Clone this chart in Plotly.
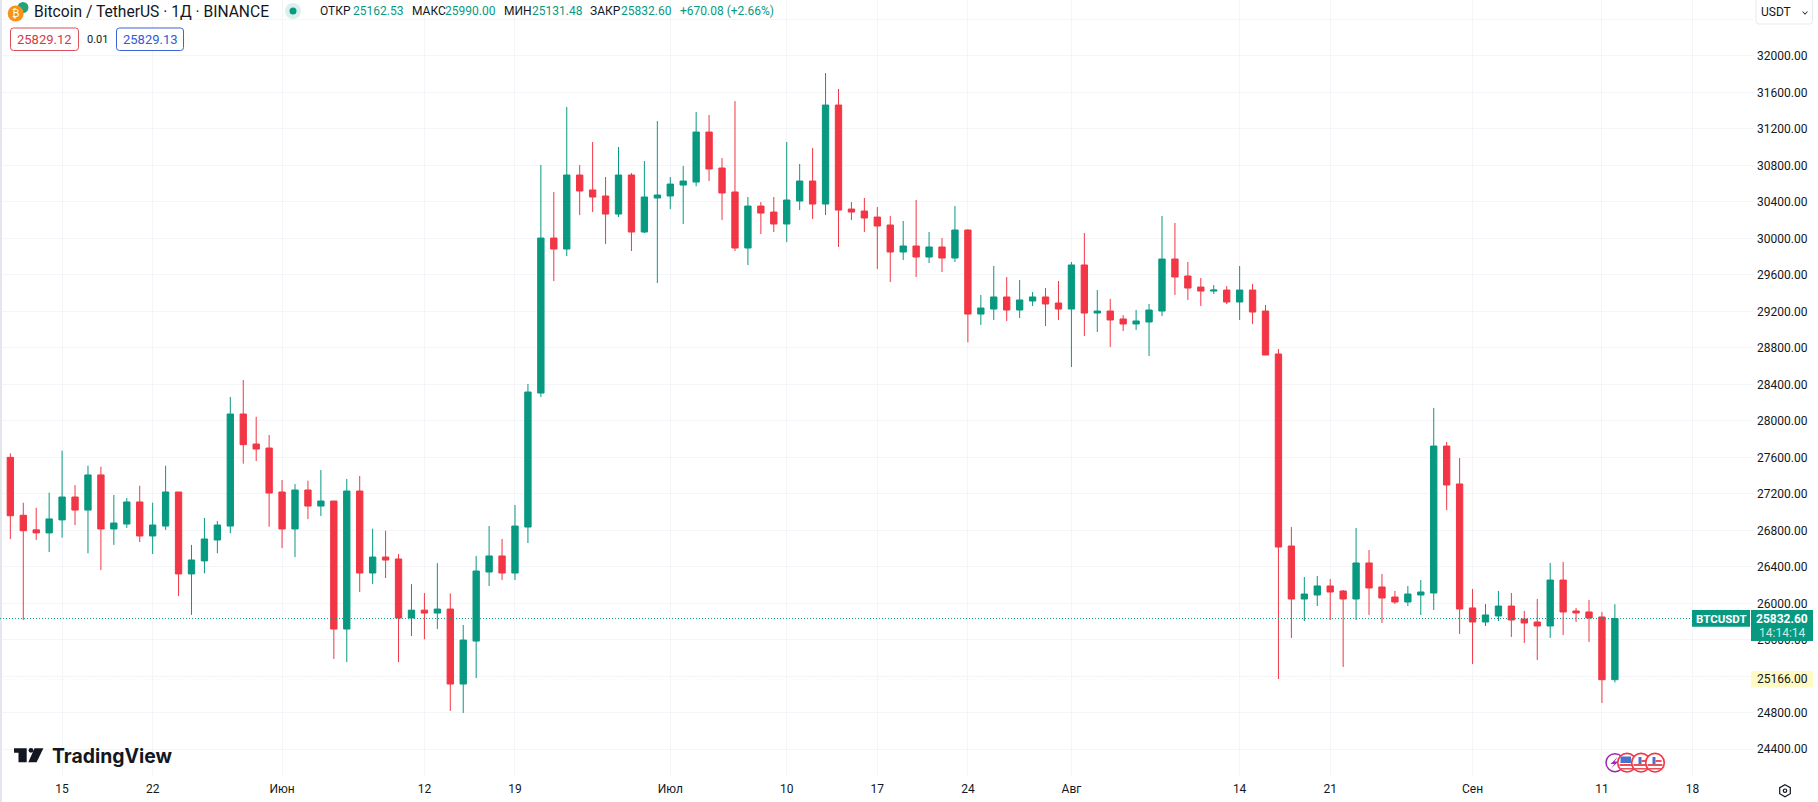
import pandas as pd
import plotly.graph_objects as go

start_date = "2023-05-11"
open_ = [27600,26965,26805,26772,26914,27165,27022,27407,26815,26869,27111,26738,26847,27220,26322,26465,26694,26847,28075,27746,
 27702,27220,26815,27242,27066,27121,25718,27231,26332,26507,26486,25839,25925,25893,25937,25115,25586,26343,26519,26332,
 26836,28305,30004,29884,30695,30531,30465,30267,30695,30070,30443,30465,30585,30618,31166,30772,30509,29895,30355,30289,
 30158,30410,30629,30377,31462,30322,30300,30234,30147,29851,29917,29796,29906,29785,30092,29171,29226,29358,29215,29314,
 29358,29292,29226,29709,29182,29204,29117,29062,29084,29204,29774,29588,29467,29423,29434,29303,29434,29204,28733,26628,
 26047,26091,26190,26135,26047,26442,26179,26069,26014,26091,26113,27724,27308,25949,25795,25861,25970,25828,25795,25751,
 26255,25916,25905,25850,25162.53]
high = [27644,27103,27048,27213,27673,27296,27509,27498,27187,27154,27289,27103,27508,27220,26640,26935,26902,28262,28448,28045,
 27845,27351,27307,27344,27461,27121,27362,27395,26818,26796,26540,26210,26112,26440,26108,25762,26519,26847,26705,27078,
 28404,30805,30509,31440,30805,31057,30673,31002,30717,30848,31287,30673,30794,31386,31353,30881,31506,30454,30399,30454,
 31057,30816,30991,31813,31638,30399,30443,30344,30245,30191,30421,30070,30004,30355,30100,29380,29698,29577,29544,29413,
 29456,29533,29741,30059,29434,29336,29160,29215,29281,30246,30169,29741,29566,29489,29478,29698,29500,29270,28788,26836,
 26288,26299,26266,26146,26826,26584,26321,26135,26190,26255,28142,27768,27593,26157,25992,26135,26113,25916,26047,26442,
 26453,25949,26036,25905,25990]
low = [26704,25817,26695,26562,26720,26858,26548,26365,26640,26826,26672,26540,26804,26080,25873,26329,26548,26767,27531,27560,
 26840,26606,26507,26923,26956,25390,25356,26124,26212,26277,25356,25641,25605,25718,24820,24798,25180,26190,26255,26255,
 26661,28261,29533,29807,30256,30289,29939,30234,29862,30059,29511,30322,30158,30571,30629,30202,29862,29708,30048,30070,
 29960,30311,30213,30256,29906,30202,30070,29665,29522,29763,29577,29730,29632,29742,28861,29051,29106,29095,29128,29259,
 29040,29106,28590,28930,28974,28810,28985,28996,28711,29149,29380,29325,29259,29391,29281,29106,29062,28722,25170,25620,
 25806,25970,25817,25302,25817,25872,25784,25992,25970,25872,25927,27023,25664,25335,25751,25806,25631,25565,25378,25620,
 25653,25795,25576,24907,25131.48]
close = [26960,26796,26772,26925,27165,27022,27407,26815,26880,27111,26738,26858,27220,26322,26475,26705,26858,28075,27739,27691,
 27209,26815,27242,27066,27121,25718,27231,26332,26507,26474,25839,25925,25893,25937,25115,25597,26354,26519,26332,26847,
 28316,30004,29884,30695,30520,30454,30267,30695,30070,30454,30476,30596,30629,31166,30761,30498,29895,30355,30278,30158,
 30421,30629,30377,31462,30311,30289,30224,30136,29851,29917,29796,29906,29785,30092,29171,29237,29358,29215,29325,29358,
 29281,29226,29709,29182,29204,29106,29062,29095,29215,29774,29577,29456,29423,29434,29303,29434,29193,28722,26617,26047,
 26102,26190,26124,26047,26442,26168,26058,26014,26102,26124,27724,27297,25938,25795,25872,25970,25817,25784,25751,26255,
 25905,25894,25839,25162.53,25832.60]
price_ticks = list(range(24400, 32401, 400))
hidden_price_labels = [32400]
date_ticks = ["2023-05-15","2023-05-22","2023-06-01","2023-06-12","2023-06-19","2023-07-01","2023-07-10","2023-07-17",
              "2023-07-24","2023-08-01","2023-08-14","2023-08-21","2023-09-01","2023-09-11","2023-09-18"]
date_labels = ["15","22","Июн","12","19","Июл","10","17","24","Авг","14","21","Сен","11","18"]
last_price = 25832.60
marked_low = 25166.00

UP, DOWN, INK = "#089981", "#F23645", "#131722"
GRID = "#F3F5F9"
FONT = "Roboto, sans-serif"
W, H = 1753, 776
PXDAY = 12.94
def px(x): return x / W
def py(y): return (H - y) / H

dates = pd.date_range(start_date, periods=len(open_), freq="D")
t0 = pd.Timestamp(start_date)
xr = [t0 + pd.Timedelta(days=-10.33 / PXDAY), t0 + pd.Timedelta(days=(W - 10.33) / PXDAY)]
yr = [26000 - (H - 603.3) / 0.09122, 26000 + 603.3 / 0.09122]

fig = go.Figure(go.Candlestick(
    x=dates, open=open_, high=high, low=low, close=close,
    increasing=dict(line=dict(color=UP, width=1), fillcolor=UP),
    decreasing=dict(line=dict(color=DOWN, width=1), fillcolor=DOWN),
    showlegend=False))

shapes, annos = [], []
def rect(x0, y0, x1, y1, fill, line=None, lw=0, layer="above"):
    shapes.append(dict(type="rect", xref="paper", yref="paper", x0=px(x0), x1=px(x1), y0=py(y1), y1=py(y0),
                       fillcolor=fill, line=dict(color=line or fill, width=lw), layer=layer))
def circle(cx, cy, r, fill, line=None, lw=0):
    shapes.append(dict(type="circle", xref="paper", yref="paper", x0=px(cx - r), x1=px(cx + r), y0=py(cy + r), y1=py(cy - r),
                       fillcolor=fill, line=dict(color=line or fill, width=lw), layer="above"))
def poly(pts, fill, line=None, lw=0):
    p = "M" + " L".join(f"{px(a):.5f},{py(b):.5f}" for a, b in pts) + " Z"
    shapes.append(dict(type="path", xref="paper", yref="paper", path=p, fillcolor=fill,
                       line=dict(color=line or fill, width=lw), layer="above"))
def rrect(x0, y0, x1, y1, r, fill, line, lw=1):
    c = lambda a, b: f"{px(a):.5f},{py(b):.5f}"
    p = (f"M{c(x0+r,y0)} L{c(x1-r,y0)} Q{c(x1,y0)} {c(x1,y0+r)} L{c(x1,y1-r)} Q{c(x1,y1)} {c(x1-r,y1)} "
         f"L{c(x0+r,y1)} Q{c(x0,y1)} {c(x0,y1-r)} L{c(x0,y0+r)} Q{c(x0,y0)} {c(x0+r,y0)} Z")
    shapes.append(dict(type="path", xref="paper", yref="paper", path=p, fillcolor=fill,
                       line=dict(color=line, width=lw), layer="above"))
def text(x, y, s, color=INK, size=12, anchor="left", family=FONT):
    annos.append(dict(xref="paper", yref="paper", x=px(x), y=py(y), text=s, showarrow=False, xanchor=anchor, yanchor="middle",
                      font=dict(family=family, size=size, color=color), borderpad=0))

# left strip
shapes.append(dict(type="rect", xref="paper", yref="paper", x0=0, x1=px(2), y0=py(802), y1=1,
                   fillcolor="#E3E6EC", line=dict(width=0), layer="above"))

# price lines
shapes.append(dict(type="line", xref="paper", yref="y", x0=0, x1=px(1692), y0=last_price, y1=last_price,
                   line=dict(color=UP, width=1, dash="1px,2px"), layer="above"))
shapes.append(dict(type="line", xref="paper", yref="y", x0=0, x1=1, y0=marked_low, y1=marked_low,
                   line=dict(color="#FFF3C4", width=1, dash="1px,2px"), layer="below"))

# header
circle(23, 7.5, 5.5, "#26A17B")
circle(15.7, 13.5, 8, "#F7931A")
text(15.7, 13.5, "₿", "#FFFFFF", 10, "center")
text(33, 12, "Bitcoin / TetherUS · 1Д · BINANCE", INK, 15.6)
circle(293, 11, 8, "rgba(8,153,129,0.15)")
circle(293, 11, 3.5, UP)
for x, s, c in [(319, "ОТКР", INK), (352, "25162.53", UP), (411, "МАКС", INK), (444, "25990.00", UP),
                (502.5, "МИН", INK), (530.6, "25131.48", UP), (589, "ЗАКР", INK), (620, "25832.60", UP),
                (678.6, "+670.08 (+2.66%)", UP)]:
    text(x, 11.5, s, c, 12)
rrect(10.5, 28, 78.5, 50.5, 3, "#FFFFFF", "#D9505C")
text(44.5, 39.5, "25829.12", "#D13B47", 13, "center")
text(97, 39.5, "0.01", INK, 11, "center")
rrect(116.5, 28, 183.5, 50.5, 3, "#FFFFFF", "#3D62D6")
text(150, 39.5, "25829.13", "#2F5BD8", 13, "center")

# currency button
rrect(1756, -1, 1812.5, 24, 3, "#FFFFFF", "#E7E9EF")
text(1759.5, 12, "USDT", INK, 12)
poly([(1802.5, 11), (1805, 13.5), (1807.5, 11), (1807.5, 12), (1805, 14.8), (1802.5, 12)], INK)

# axis labels on the right
rect(1692, 610, 1750, 626.7, UP)
text(1721, 618.5, "<b>BTCUSDT</b>", "#FFFFFF", 11.5, "center")
rect(1751, 610, 1813, 641, UP)
text(1782, 618.5, "<b>25832.60</b>", "#FFFFFF", 12, "center")
text(1782, 633, "14:14:14", "#CDEBE5", 12, "center")
rect(1751, 671, 1813, 687.5, "#FFF9C4")
text(1782, 679.3, "25166.00", INK, 12, "center")

# TradingView logo
poly([(14, 748.3), (26.7, 748.3), (26.7, 762.3), (18.5, 762.3), (18.5, 752.7), (14, 752.7)], INK)
circle(31, 750.3, 2.4, INK)
poly([(34.5, 748.3), (43.4, 748.3), (36.6, 762.3), (28.3, 762.3)], INK)
text(50.5, 755.5, "<b>TradingView</b>", INK, 19.4, family="Inter, sans-serif")

# event badges
circle(1615, 762.7, 9, "#FFFFFF", "#9C27B0", 1.5)
poly([(1618, 756.5), (1610.5, 764), (1614.5, 764), (1611, 768.5), (1618.5, 761.5), (1614.5, 761.5)], "#9C27B0")
for cx, full in [(1627, True), (1641, False), (1655, False)]:
    circle(cx, 762.7, 9.3, "#FFFFFF", DOWN, 1.6)
    if full:
        rect(cx - 6.5, 756.5, cx + 4, 763, "#4A72CC")
    else:
        rect(cx - 2.5, 757, cx + 0.5, 764.5, "#4A72CC")
        rect(cx + 0.5, 760, cx + 6.5, 762, "#E8505B")
    rect(cx - 7.5, 764, cx + 7.5, 766, "#E8505B")
    rect(cx - 6, 768, cx + 6, 769.5, "#E8505B")

# settings icon
poly([(1785, 784.7), (1790.3, 787.7), (1790.3, 793.7), (1785, 796.7), (1779.7, 793.7), (1779.7, 787.7)], "#FFFFFF", INK, 1.2)
circle(1785, 790.7, 1.7, "#FFFFFF", INK, 1.2)

fig.update_layout(
    width=1818, height=802, margin=dict(l=0, r=1818 - W, t=0, b=802 - H),
    paper_bgcolor="#FFFFFF", plot_bgcolor="#FFFFFF",
    font=dict(family=FONT, size=12, color=INK),
    shapes=shapes, annotations=annos, showlegend=False,
    xaxis=dict(type="date", range=xr, rangeslider=dict(visible=False), tickmode="array",
               tickvals=date_ticks, ticktext=date_labels, showgrid=True, gridcolor=GRID, gridwidth=1,
               zeroline=False, showline=False, ticks="", ticklabelstandoff=4, tickfont=dict(size=12, color=INK)),
    yaxis=dict(side="right", range=yr, tickmode="array", tickvals=price_ticks,
               ticktext=["" if v in hidden_price_labels else f"{v:.2f}" for v in price_ticks],
               showgrid=True, gridcolor=GRID, gridwidth=1,
               zeroline=False, showline=False, ticks="", ticklabelstandoff=3, tickfont=dict(size=12, color=INK)),
)
fig.write_html("out.html", config=dict(displayModeBar=False),
               post_script="document.body.style.margin='0';document.body.style.overflow='hidden';")
